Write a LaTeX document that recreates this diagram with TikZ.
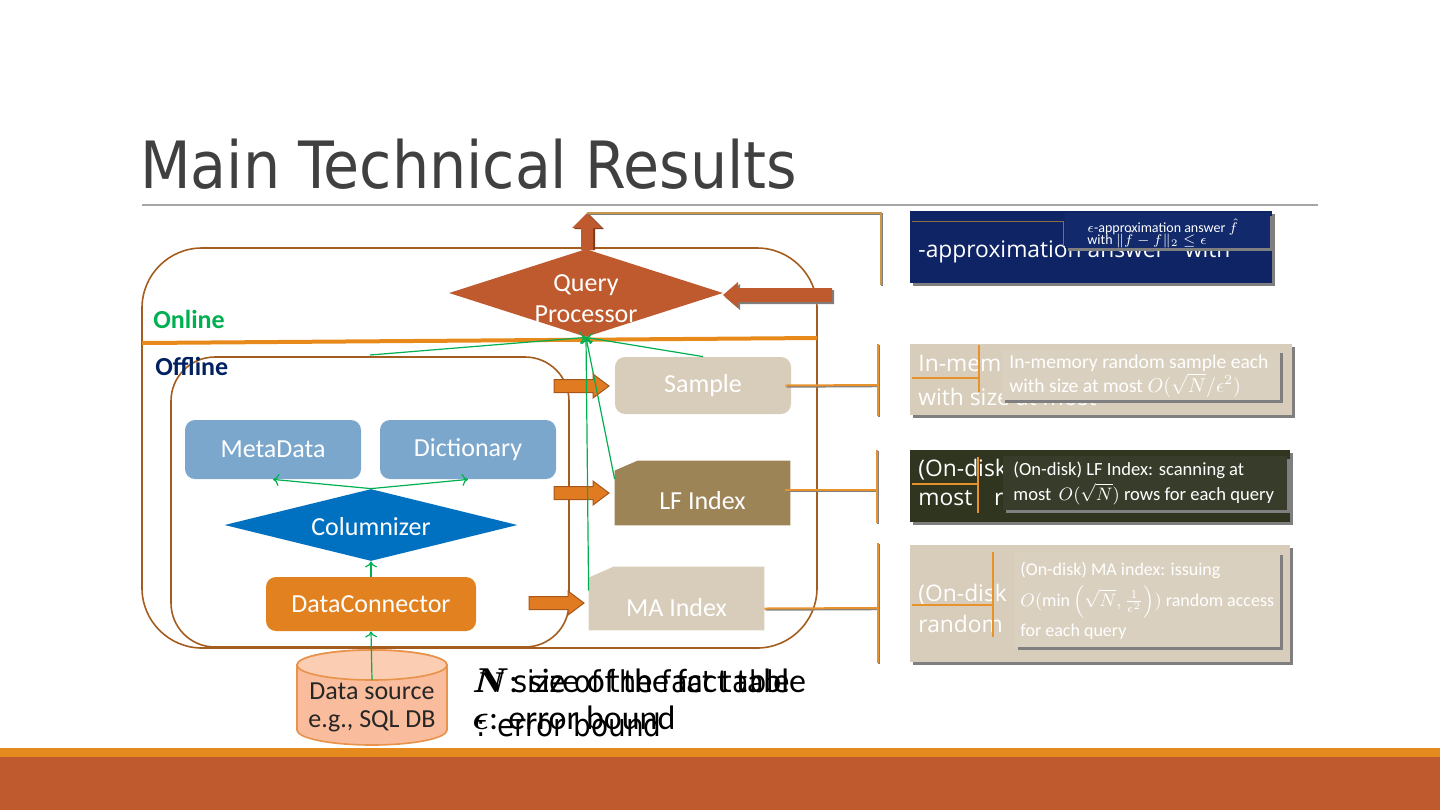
\documentclass[tikz,border=0pt]{standalone}
\usepackage{amsmath}
\usepackage{fontspec}
\setmainfont{Carlito}
\newfontfamily\titlefont{DejaVu Sans Condensed}
\newfontfamily\ghostfont{Open Sans}
\usetikzlibrary{shapes.geometric,arrows.meta}
\definecolor{rust}{HTML}{BE5A2D}
\definecolor{rustdark}{HTML}{7F3A1A}
\definecolor{oband}{HTML}{E48A1F}
\definecolor{boxbrown}{HTML}{A35E1F}
\definecolor{sepor}{HTML}{E8891C}
\definecolor{ggreen}{HTML}{00B050}
\definecolor{navytxt}{HTML}{002060}
\definecolor{metablue}{HTML}{7BA7CC}
\definecolor{colblue}{HTML}{0070C0}
\definecolor{dcor}{HTML}{E2811F}
\definecolor{tanbox}{HTML}{D8CDBA}
\definecolor{tanin}{HTML}{DAD0BF}
\definecolor{lfbrown}{HTML}{9C8457}
\definecolor{navybox}{HTML}{0E2465}
\definecolor{navyin}{HTML}{12296B}
\definecolor{darkbox}{HTML}{30351F}
\definecolor{darkin}{HTML}{383D2B}
\definecolor{titlegray}{HTML}{404040}
\definecolor{rulegray}{HTML}{A6A6A6}
\definecolor{shadowgray}{HTML}{7F7F7F}
\definecolor{callor}{HTML}{E8922B}
\definecolor{calltan}{HTML}{C9974A}
\definecolor{thinbrown}{HTML}{8F6D42}
\definecolor{arrowor}{HTML}{E07B22}
\definecolor{arrowedge}{HTML}{A8571A}
\definecolor{dsfill}{HTML}{F9BC9C}
\definecolor{dstop}{HTML}{FBCDB2}
\definecolor{dsedge}{HTML}{E8924A}
\definecolor{dstext}{HTML}{262626}
\tikzset{
  rblock/.pic={\filldraw[fill=arrowor, draw=arrowedge, line width=0.5pt]
     (0,-6.5) -- (39,-6.5) -- (39,-12) -- (55,0) -- (39,12) -- (39,6.5) -- (0,6.5) -- cycle;}
}
\begin{document}
\begin{tikzpicture}[x=0.5pt,y=-0.5pt,
  body/.style={font=\fontsize{13}{15.5}\selectfont},
  rbox/.style={rounded corners=5pt, inner sep=0pt, text=white, body},
  lbl/.style={text=white, body, inner sep=0pt, align=center},
  garrow/.style={draw=ggreen, line width=0.6pt, -{To[length=3pt,width=6pt]}},
  cline/.style={draw=callor, line width=1pt, preaction={draw=shadowgray, line width=1pt, transform canvas={shift={(0.6pt,-0.6pt)}}}},
  tline/.style={draw=calltan, line width=1.2pt, preaction={draw=shadowgray, line width=1pt, transform canvas={shift={(0.6pt,-0.6pt)}}}},
  shadowed/.style={preaction={fill=shadowgray, transform canvas={shift={(1.5pt,-1.5pt)}}}},
  rb/.style={shadowed, inner sep=0pt, draw=none},
  ghost/.style={anchor=base west, inner sep=0pt, text=white, font=\ghostfont\fontsize{11.4}{13}\selectfont},
  intext/.style={anchor=base west, inner sep=0pt, text=white},
]
\useasboundingbox (0,0) rectangle (1440,810);
% bottom bands
\fill[oband] (0,748) rectangle (1440,757);
\fill[rust] (0,757) rectangle (1440,810);
% title
\node[anchor=base west, inner sep=0pt, text=titlegray, font=\titlefont\fontsize{32.6}{37}\selectfont] (title) at (140,188) {Main Technical Results};
\draw[rulegray, line width=0.75pt] (142,205) -- (1318,205);

% containers
\draw[boxbrown, line width=0.8pt, rounded corners=30pt] (142,248) rectangle (817,648);
\draw[boxbrown, line width=0.8pt, rounded corners=22pt] (171,357) rectangle (569,647);
\draw[sepor, line width=2pt] (142,343) -- (817,338);
\node[anchor=base west, inner sep=0pt, text=ggreen, font=\bfseries\fontsize{13}{15}\selectfont] (online) at (153,328) {Online};
\node[anchor=base west, inner sep=0pt, text=navytxt, font=\bfseries\fontsize{13}{15}\selectfont] (offline) at (155,375) {Offline};

% query processor and block arrows
\fill[rustdark] (583,250) -- (583,229) -- (574,229) -- (589,214) -- (604,229) -- (595,229) -- (595,250) -- cycle;
\fill[rust] (581,250) -- (581,228) -- (572,228) -- (587,213) -- (602,228) -- (593,228) -- (593,250) -- cycle;
\coordinate (qpout) at (587,213);
\node[diamond, fill=rust, minimum width=137pt, minimum height=44pt, inner sep=0pt] (qp) at (586,293) {};
\node[lbl, font=\fontsize{13}{15.5}\selectfont] (qptext) at (586,299) {Query\\Processor};
\fill[shadowgray] (725,297) -- (740,284) -- (740,290) -- (834,290) -- (834,304) -- (740,304) -- (740,310) -- cycle;
\fill[rust] (723,295) -- (738,282) -- (738,288) -- (832,288) -- (832,302) -- (738,302) -- (738,308) -- cycle;

% offline nodes
\node[rbox, fill=metablue, minimum width=88pt, minimum height=29.5pt] (meta) at (273,449.5) {MetaData};
\node[rbox, fill=metablue, minimum width=88pt, minimum height=29.5pt] (dict) at (468,449.5) {Dictionary};
\node[diamond, fill=colblue, minimum width=146.5pt, minimum height=36pt, inner sep=0pt] (col) at (371,525) {};
\node[lbl] (coltext) at (371,527) {Columnizer};
\node[rbox, fill=dcor, minimum width=105pt, minimum height=27pt] (dc) at (371,604) {DataConnector};

% data source cylinder
\filldraw[fill=dsfill, draw=dsedge, line width=0.8pt] (297,665) -- (297,730)
  arc[start angle=180, end angle=360, x radius=37.5pt, y radius=7.5pt] -- (447,665)
  arc[start angle=0, end angle=180, x radius=37.5pt, y radius=7.5pt] -- cycle;
\filldraw[fill=dstop, draw=dsedge, line width=0.8pt] (372,665) ellipse [x radius=37.5pt, y radius=7.5pt];
\node[inner sep=0pt, align=center, text=dstext, font=\fontsize{13}{14}\selectfont] (ds) at (372,707) {Data source\\e.g., SQL DB};
\coordinate (dstop) at (372,680);

% storage nodes
\node[rbox, fill=tanbox, minimum width=88pt, minimum height=28.5pt] (sample) at (703,385.5) {Sample};
\path node[minimum width=87.5pt, minimum height=32pt, inner sep=0pt] (lf) at (702.5,493) {};
\fill[lfbrown] (lf.south west) -- (lf.south east) -- (lf.north east) -- ([xshift=11.5pt]lf.north west) -- ([yshift=-5pt]lf.north west) -- cycle;
\node[lbl] (lftext) at ([yshift=-4pt]lf.center) {LF Index};
\path node[minimum width=87.5pt, minimum height=31.5pt, inner sep=0pt] (ma) at (676.5,598.5) {};
\fill[tanbox] (ma.south west) -- (ma.south east) -- (ma.north east) -- ([xshift=12.5pt]ma.north west) -- ([yshift=-5.5pt]ma.north west) -- cycle;
\node[lbl] (matext) at ([yshift=-4.5pt]ma.center) {MA Index};

% orange block arrows
\pic at (554,386) {rblock};
\pic at (554,493) {rblock};
\pic at (529,603) {rblock};

% green connectors
\draw[garrow] (dstop) -- (dc.south);
\draw[garrow] (dc.north) -- (col.south);
\draw[garrow] (col.north) -- (meta.south);
\draw[garrow] (col.north) -- (dict.south);
\coordinate (offtop) at (370,355);
\draw[garrow] (offtop) -- (qp.south);
\draw[garrow] (sample.north) -- (qp.south);
\draw[garrow] ([yshift=7pt]lf.west) -- (qp.south);
\draw[garrow] ([yshift=4pt]ma.west) -- (qp.south);

% callout connectors
\coordinate (c0a) at (881,213);
\coordinate (c0b) at (881,285);
\draw[tline] (qpout) -- (c0a) -- (c0b);
\coordinate (c1) at (878,385);
\coordinate (c1t) at (878,344);
\coordinate (c1b) at (878,416);
\draw[cline] ([xshift=-3pt]sample.east) -- (c1);
\draw[cline] (c1t) -- (c1b);
\coordinate (c2) at (877,490);
\coordinate (c2t) at (877,450);
\coordinate (c2b) at (877,523);
\draw[cline] ([xshift=-2.5pt,yshift=1.5pt]lf.east) -- (c2);
\draw[cline] (c2t) -- (c2b);
\coordinate (c3) at (878,608);
\coordinate (c3t) at (878,543);
\coordinate (c3b) at (878,663);
\draw[cline] ([yshift=-5pt]ma.east) -- (c3);
\draw[cline] (c3t) -- (c3b);

% right callout box 1
\node[rb, fill=navybox, minimum width=181pt, minimum height=36pt] (r1) at (1091,247) {};
\node[ghost] (g1) at (918,257) {-approximation answer\hspace{7pt} with};
\draw[thinbrown, line width=0.5pt] (912,221) -- (1063,221) -- (1063,246);
\node[rb, fill=navyin, minimum width=102.5pt, minimum height=17.5pt] (i1) at (1167.5,230.5) {};
\node[intext, font=\fontsize{7}{8}\selectfont] (t1a) at (1087,232) {$\epsilon$-approximation answer $\hat f$};
\node[intext, font=\fontsize{7}{8}\selectfont] (t1b) at (1087,244) {with $\|\hat f - f\|_2 \le \epsilon$};

% right callout box 2
\node[rb, fill=tanbox, minimum width=191pt, minimum height=35.5pt] (r2) at (1101,379.5) {};
\node[ghost] (g2a) at (918,371) {In-mem};
\node[ghost] (g2b) at (918,405) {with size at most};
\draw[callor, line width=1pt] (912,378) -- (980,378);
\draw[callor, line width=1pt] (979,345) -- (979,392);
\node[rb, fill=tanin, minimum width=139pt, minimum height=25pt] (i2) at (1141,375) {};
\node[intext, font=\fontsize{9.8}{11}\selectfont] (t2a) at (1009,368) {In-memory random sample each};
\node[intext, font=\fontsize{9.8}{11}\selectfont] (t2b) at (1009,392) {with size at most $O(\sqrt{N}/\epsilon^2)$};

% right callout box 3
\node[rb, fill=darkbox, minimum width=190pt, minimum height=36pt] (r3) at (1100,486) {};
\node[ghost] (g3a) at (918,476) {(On-disk};
\node[ghost] (g3b) at (918,505) {most\hspace{8pt} rows for each query};
\draw[callor, line width=1pt] (912,484) -- (978,484);
\draw[callor, line width=1pt] (978,457) -- (978,513);
\node[rb, fill=darkin, minimum width=142pt, minimum height=27pt] (i3) at (1145,483) {};
\node[intext, font=\fontsize{9.3}{11}\selectfont] (t3a) at (1013,475) {(On-disk) LF Index: scanning at};
\node[intext, font=\fontsize{9.3}{11}\selectfont] (t3b) at (1013,500) {most\, $O(\sqrt{N})$ rows for each query};

% right callout box 4
\node[rb, fill=tanbox, minimum width=190pt, minimum height=58.5pt] (r4) at (1100,603.5) {};
\node[ghost] (g4a) at (918,601) {(On-disk};
\node[ghost] (g4b) at (918,632) {random};
\draw[callor, line width=1pt] (912,605) -- (992,605);
\draw[callor, line width=1pt] (993,552) -- (993,637);
\node[rb, fill=tanin, minimum width=132.5pt, minimum height=47.5pt] (i4) at (1147.5,599.5) {};
\node[intext, font=\fontsize{9}{11}\selectfont] (t4a) at (1020,575) {(On-disk) MA index: issuing};
\node[intext, font=\fontsize{9}{11}\selectfont] (t4b) at (1020,606) {$O(\min\left(\sqrt{N},\frac{1}{\epsilon^2}\right))$ random access};
\node[intext, font=\fontsize{9}{11}\selectfont] (t4c) at (1020,636) {for each query};

% legend (overprinted, as in the reference)
\node[anchor=base west, inner sep=0pt, font=\fontsize{17}{18}\selectfont] (leg1a) at (472,692) {$\boldsymbol{N}$: size of the fact table};
\node[anchor=base west, inner sep=0pt, font=\titlefont\fontsize{15}{18}\selectfont] (leg1b) at (474,692) {$\boldsymbol{N}$ size of the fact table};
\node[anchor=base west, inner sep=0pt, font=\fontsize{17}{18}\selectfont] (leg2a) at (472,729) {$\boldsymbol{\epsilon}$: error bound};
\node[anchor=base west, inner sep=0pt, font=\titlefont\fontsize{15.5}{18}\selectfont] (leg2b) at (476,736) {: error bound};
\end{tikzpicture}
\end{document}
